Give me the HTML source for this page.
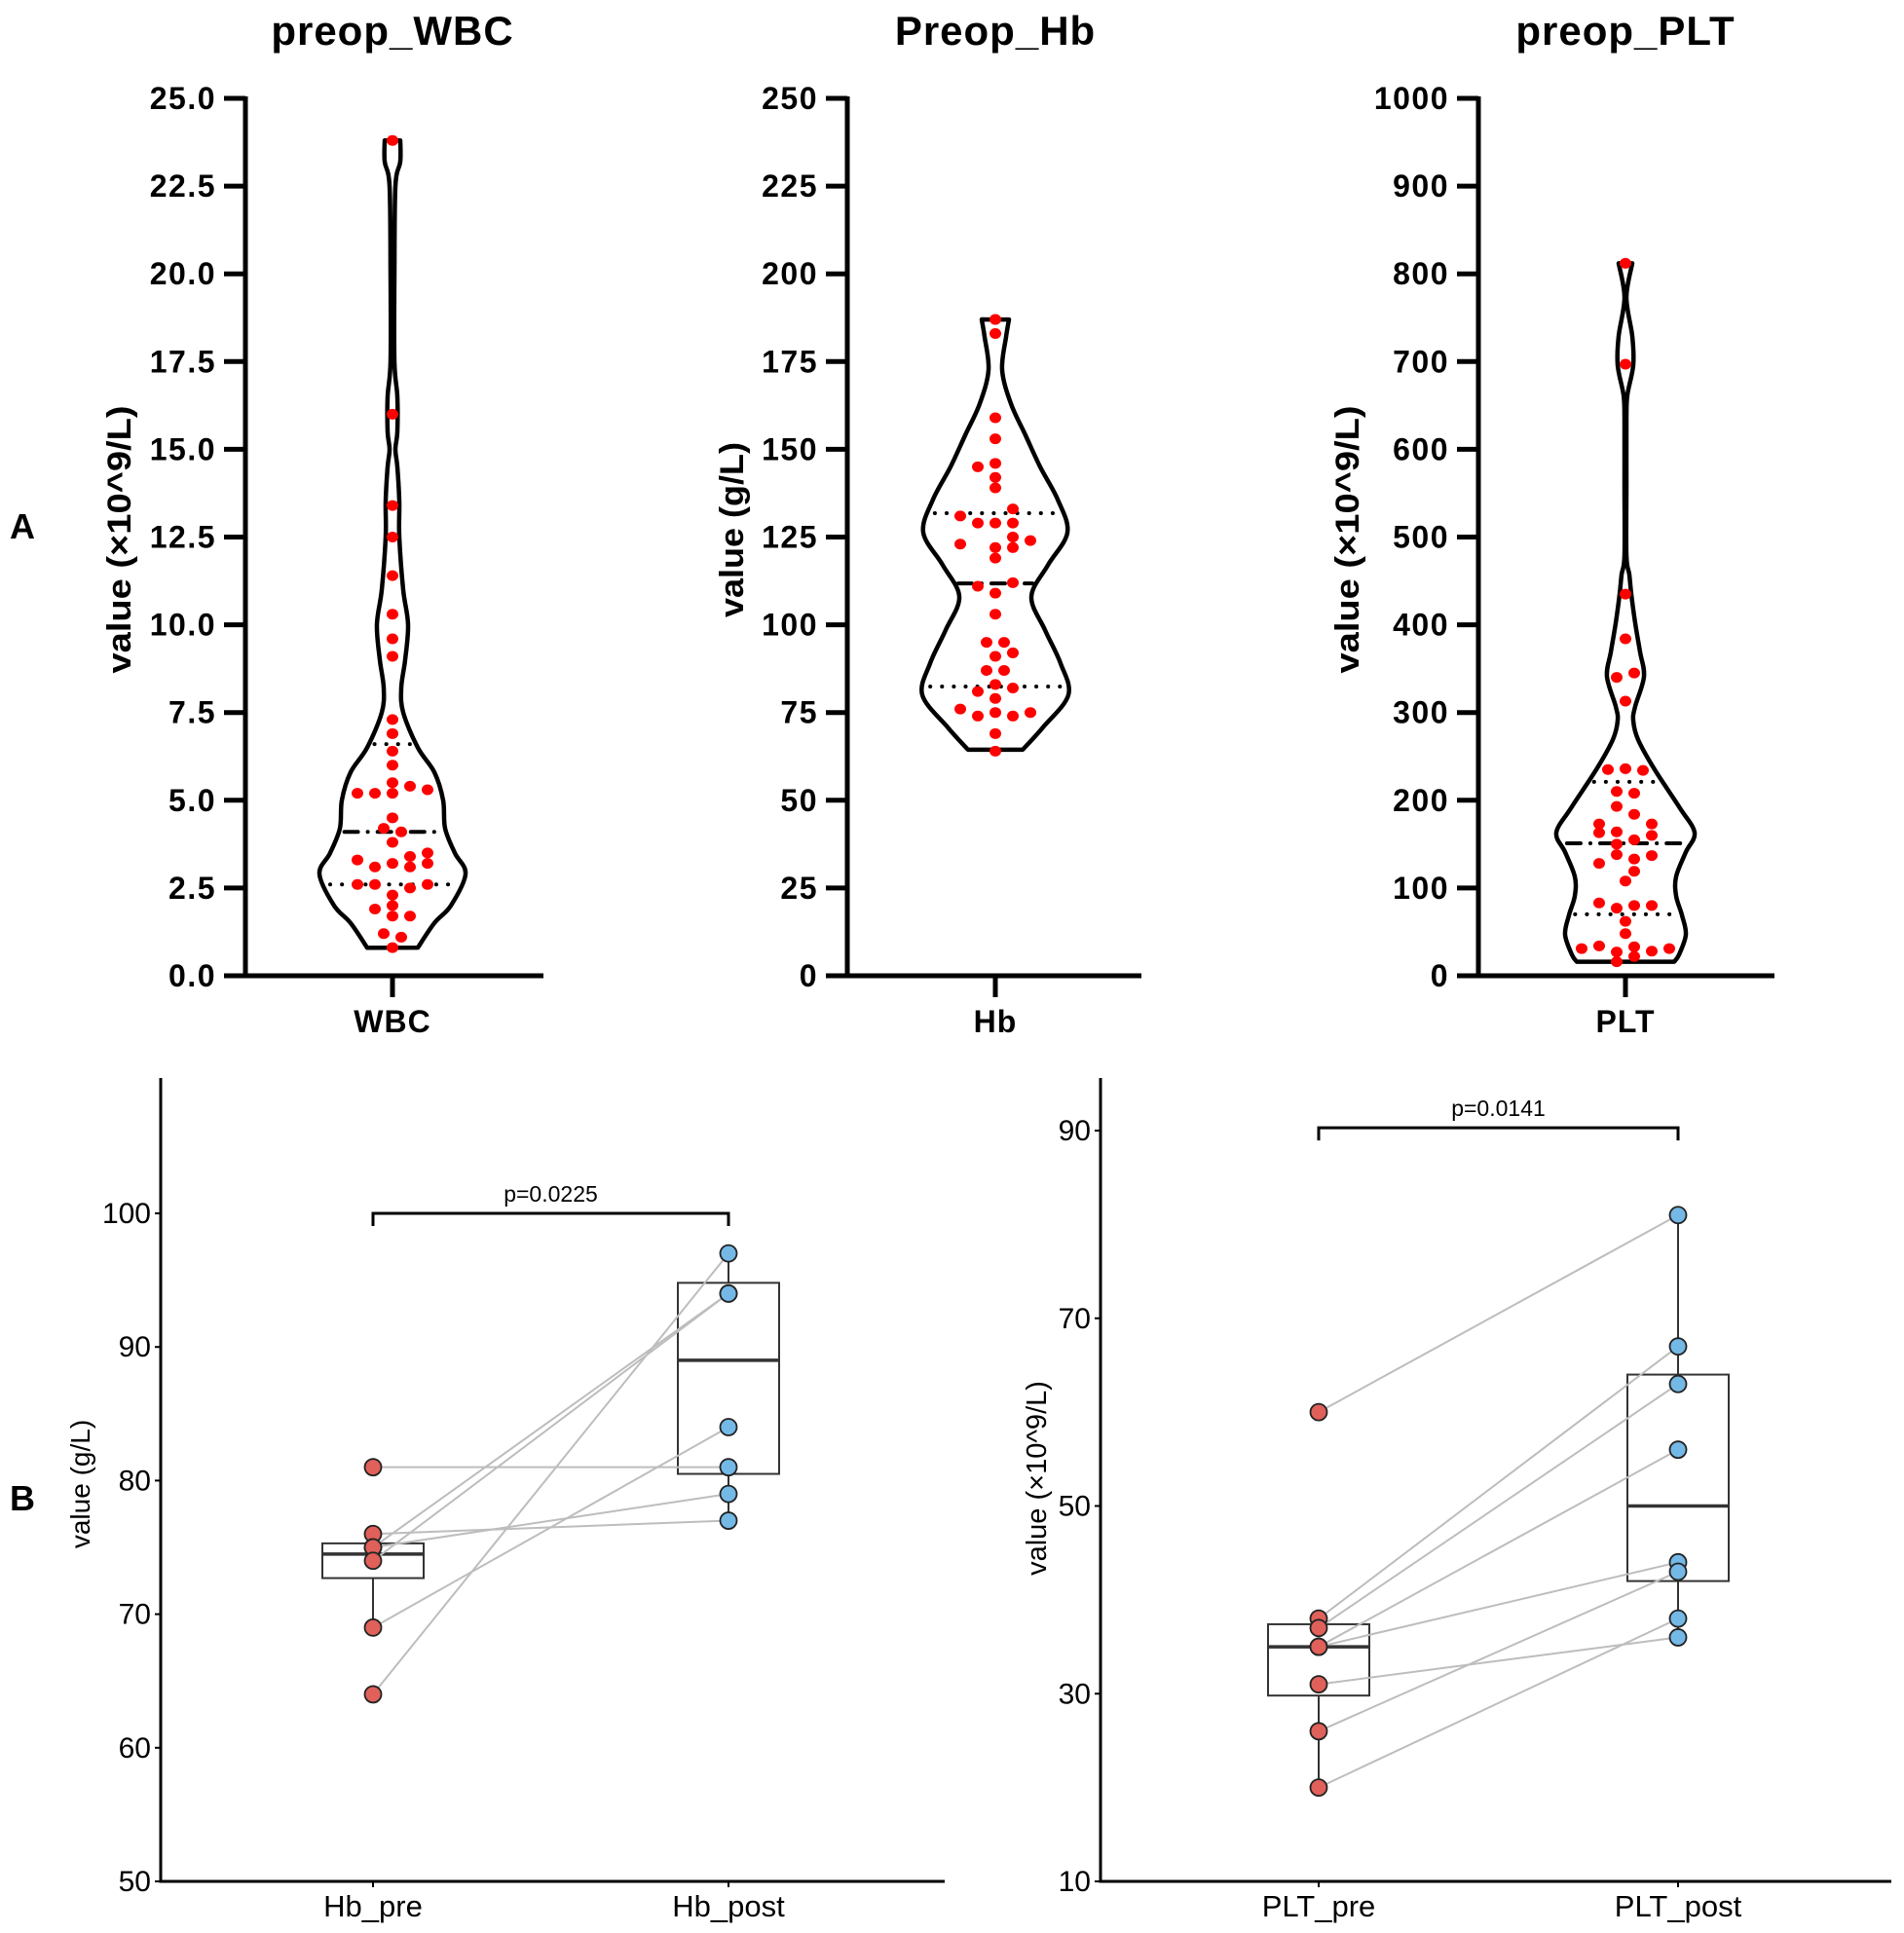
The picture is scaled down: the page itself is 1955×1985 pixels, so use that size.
<!DOCTYPE html>
<html><head><meta charset="utf-8"><style>
html,body{margin:0;padding:0;background:#fff;}
svg{display:block;font-family:"Liberation Sans",Arial,sans-serif;}
</style></head><body>
<svg id="chart" width="1955" height="1985" viewBox="0 0 1955 1985" xmlns="http://www.w3.org/2000/svg"></svg>
<script>
// ---------- Panel A data ----------
const wbcPoints=[23.8,16.0,13.4,12.5,11.4,10.3,9.6,9.1,7.3,6.9,6.4,6.0,5.5,5.2,5.2,5.2,5.4,5.3,4.5,4.2,4.1,3.8,3.3,3.1,3.2,3.4,3.1,3.5,3.2,2.6,2.6,2.5,2.6,2.3,2.0,1.9,1.7,1.7,1.2,1.1,0.8];
const wbcOffsets=[0,0,0,0,0,0,0,0,0,0,0,0,0,0,-2,-1,1,2,0,-0.5,0.5,0,-2,-1,0,1,1,2,2,-2,-1,1,2,0,0,-1,0,1,-0.5,0.5,0];
const wbcQuart=[2.6,4.1,6.6];
const wbcProfV=[0.8,1.5,2.0,2.9,3.5,4.2,5.0,5.8,6.5,7.5,8.2,9.0,10.0,11.0,12.5,13.5,14.5,15.0,15.5,16.5,17.5,20,22.5,23.2,23.8];
const wbcProfW=[26,43,60,75,64,54,52,43,26,11,9,13,16,11,7,7,5,3,5,5,2,2,3,8,8];
const wbcTicks=[0,2.5,5,7.5,10,12.5,15,17.5,20,22.5,25];

const hbPoints=[187,183,159,153,146,145,142,139,133,131,129,129,129,125,124,123,122,122,119,112,111,109,103,95,95,92,91,87,87,83,82,81,79,76,75,75,74,74,69,64];
const hbOffsets=[0,0,0,0,0,-1,0,0,1,-2,-1,0,1,1,2,-2,0,1,0,1,-1,0,0,-0.5,0.5,1,0,-0.5,0.5,0,1,-1,0,-2,0,2,-1,1,0,0];
const hbQuart=[82.4,111.8,131.8];
const hbProfV=[64.4,70.8,80,89,98.5,108,117,126.3,135.7,145,154,163,172.6,182,187];
const hbProfW=[28,49,75,67,51,37,54,74,64,46,31,16,7,11,14];
const hbTicks=[0,25,50,75,100,125,150,175,200,225,250];

const pltPoints=[812,697,435,384,340,345,313,235,236,234,210,208,193,184,173,163,164,173,160,155,150,138,137,133,128,119,108,83,77,80,80,62,48,31,34,27,33,28,31,22,16];
const pltOffsets=[0,0,0,0,-0.5,0.5,0,-1,0,1,-0.5,0.5,-0.5,0.5,-1.5,-1.5,-0.5,1.5,1.5,0.5,-0.5,-0.5,1.5,0.5,-1.5,0.5,0,-1.5,-0.5,0.5,1.5,0,0,-2.5,-1.5,-0.5,0.5,1.5,2.5,0.5,-0.5];
const pltQuart=[70,151,221];
const pltProfV=[16,24,47,69,91,113,141,163,191,235,269,291,307,341,369,402,435,457,479,560,635,662,696,729,773,812];
const pltProfW=[50,55,62,58,52,52,62,71,56,30,13,8,10,19,15,10,6,4,1,1,1,2,8,7,1,7];
const pltTicks=[0,100,200,300,400,500,600,700,800,900,1000];

// ---------- Panel B data ----------
const hbPre=[81,76,75,75,74,69,64];
const hbPost=[81,77,79,94,94,84,97];
const hbPreBox=[69,72.7,74.5,75.3,76];
const hbPostBox=[77,80.5,89,94.8,97];
const hbBTicks=[50,60,70,80,90,100];
const pltPre=[60,38,37,35,35,31,26,20];
const pltPost=[81,67,63,56,44,36,43,38];
const pltPreBox=[20,29.8,35,37.4,38];
const pltPostBox=[36,42,50,64,81];
const pltBTicks=[10,30,50,70,90];

const NS="http://www.w3.org/2000/svg";
const svg=document.getElementById('chart');
function mk(tag,attrs,parent){const e=document.createElementNS(NS,tag);for(const k in attrs)e.setAttribute(k,attrs[k]);(parent||svg).appendChild(e);return e;}
function txt(s,attrs,parent){const e=mk('text',attrs,parent);e.textContent=s;return e;}
function interp(vs,ws,v){if(v<=vs[0])return ws[0];for(let i=1;i<vs.length;i++){if(v<=vs[i]){const t=(v-vs[i-1])/(vs[i]-vs[i-1]);return ws[i-1]+t*(ws[i]-ws[i-1]);}}return ws[ws.length-1];}
function smooth(pts){let d='M'+pts[0][0]+','+pts[0][1];for(let i=0;i<pts.length-1;i++){const p0=pts[Math.max(0,i-1)],p1=pts[i],p2=pts[i+1],p3=pts[Math.min(pts.length-1,i+2)];const c1=[p1[0]+(p2[0]-p0[0])/6,p1[1]+(p2[1]-p0[1])/6];const c2=[p2[0]-(p3[0]-p1[0])/6,p2[1]-(p3[1]-p1[1])/6];d+=' C'+c1[0].toFixed(1)+','+c1[1].toFixed(1)+' '+c2[0].toFixed(1)+','+c2[1].toFixed(1)+' '+p2[0].toFixed(1)+','+p2[1].toFixed(1);}return d;}

function violinPanel(cfg){
  const g=mk('g',{});
  
  
  const y=v=>1002-v/cfg.max*901;
  const cx=cfg.cx;
  const t=txt(cfg.title,{x:cx,y:46,'text-anchor':'middle','font-size':42,'font-weight':'bold',fill:'#000','letter-spacing':'1'},g);
  
  
  const ya=mk('line',{x1:cfg.ax,y1:99,x2:cfg.ax,y2:1004,stroke:'#000','stroke-width':5},g);
  
  
  const xa=mk('line',{x1:cfg.ax-2.5,y1:1002,x2:cfg.xEnd,y2:1002,stroke:'#000','stroke-width':5},g);
  
  
  mk('line',{x1:cx,y1:1002,x2:cx,y2:1024,stroke:'#000','stroke-width':5},g);
  cfg.ticks.forEach(v=>{
    mk('line',{x1:cfg.ax-22,y1:y(v),x2:cfg.ax,y2:y(v),stroke:'#000','stroke-width':5},g);
    const l=txt(cfg.fmt(v),{x:cfg.ax-30,y:y(v)+11,'text-anchor':'end','font-size':32,'font-weight':'bold','letter-spacing':'1.5',fill:'#000'},g);
    
    
  });
  const c=txt(cfg.cat,{x:cx,y:1060,'text-anchor':'middle','font-size':32,'font-weight':'bold','letter-spacing':'1',fill:'#000'},g);
  
  
  const yt=txt(cfg.ytitle,{x:0,y:0,'text-anchor':'middle','font-size':34,'font-weight':'bold',fill:'#000',textLength:cfg.ylen,lengthAdjust:'spacingAndGlyphs',transform:'translate('+(cfg.ytx)+','+cfg.yty+') rotate(-90)'},g);
  
  
  const vs=cfg.pv, ws=cfg.pw;
  const right=vs.map((v,i)=>[cx+ws[i],y(v)]);
  const left=vs.map((v,i)=>[cx-ws[i],y(v)]).reverse();
  let d=smooth(right)+' L'+left[0][0]+','+left[0][1]+' '+smooth(left).slice(1).replace(/^[^C]*/,'')+' Z';
  const vp=mk('path',{d:d,fill:'none',stroke:'#000','stroke-width':4.5,'stroke-linejoin':'round'},g);
  
  
  cfg.q.forEach((qv,i)=>{
    const w=interp(vs,ws,qv)-6;
    const ql=mk('line',{x1:cx-w,y1:y(qv),x2:cx+w,y2:y(qv),stroke:'#000','stroke-width':4,'stroke-linecap':'round','stroke-dasharray':i===1?'14,10,0.1,10':'0.1,12'},g);
    
    
  });
  cfg.pts.forEach((v,i)=>{
    const p=mk('ellipse',{cx:cx+cfg.off[i]*18,cy:y(v),rx:6,ry:5.5,fill:'#ff0000'},g);
    
    
  });
}
violinPanel({name:'wbc',title:'preop_WBC',cat:'WBC',ytitle:'value (×10^9/L)',ylen:275,max:25,ax:252,cx:403,xEnd:558,ytx:134,yty:554,ticks:wbcTicks,fmt:v=>v.toFixed(1),pv:wbcProfV,pw:wbcProfW,q:wbcQuart,pts:wbcPoints,off:wbcOffsets});
violinPanel({name:'hb',title:'Preop_Hb',cat:'Hb',ytitle:'value (g/L)',ylen:180,max:250,ax:870,cx:1022,xEnd:1172,ytx:763,yty:544,ticks:hbTicks,fmt:v=>String(v),pv:hbProfV,pw:hbProfW,q:hbQuart,pts:hbPoints,off:hbOffsets});
violinPanel({name:'plt',title:'preop_PLT',cat:'PLT',ytitle:'value (×10^9/L)',ylen:275,max:1000,ax:1518,cx:1669,xEnd:1822,ytx:1395,yty:554,ticks:pltTicks,fmt:v=>String(v),pv:pltProfV,pw:pltProfW,q:pltQuart,pts:pltPoints,off:pltOffsets});

const la=txt('A',{x:10,y:553,'font-size':36,'font-weight':'bold',fill:'#000'});


const lb=txt('B',{x:10,y:1551,'font-size':36,'font-weight':'bold',fill:'#000'});



function pairedPanel(cfg){
  const g=mk('g',{});
  
  
  const y=v=>cfg.yBot-(v-cfg.min)/(cfg.max-cfg.min)*(cfg.yBot-cfg.yTopTick);
  const ya=mk('line',{x1:cfg.ax,y1:1107,x2:cfg.ax,y2:cfg.yBot+1.5,stroke:'#000','stroke-width':3},g);
  
  
  const xa=mk('line',{x1:cfg.ax-1.5,y1:cfg.yBot,x2:cfg.xEnd,y2:cfg.yBot,stroke:'#000','stroke-width':3},g);
  
  
  cfg.ticks.forEach(v=>{
    mk('line',{x1:cfg.ax-6,y1:y(v),x2:cfg.ax,y2:y(v),stroke:'#000','stroke-width':2},g);
    const l=txt(String(v),{x:cfg.ax-10,y:y(v)+10,'text-anchor':'end','font-size':30,fill:'#000'},g);
    
    
  });
  [cfg.x1,cfg.x2].forEach((x,i)=>{
    mk('line',{x1:x,y1:cfg.yBot,x2:x,y2:cfg.yBot+6,stroke:'#000','stroke-width':2},g);
    const l=txt(cfg.cats[i],{x:x,y:cfg.yBot+36,'text-anchor':'middle','font-size':31,fill:'#000'},g);
    
    
  });
  const yt=txt(cfg.ytitle,{x:0,y:0,'text-anchor':'middle','font-size':cfg.yfs,fill:'#000',transform:'translate('+cfg.ytx+','+cfg.yty+') rotate(-90)'},g);
  
  
  [[cfg.x1,cfg.preBox],[cfg.x2,cfg.postBox]].forEach(([x,b],i)=>{
    mk('line',{x1:x,y1:y(b[0]),x2:x,y2:y(b[1]),stroke:'#333','stroke-width':2},g);
    mk('line',{x1:x,y1:y(b[3]),x2:x,y2:y(b[4]),stroke:'#333','stroke-width':2},g);
    const r=mk('rect',{x:x-52,y:y(b[3]),width:104,height:y(b[1])-y(b[3]),fill:'#fff',stroke:'#333','stroke-width':2},g);
    
    
    mk('line',{x1:x-52,y1:y(b[2]),x2:x+52,y2:y(b[2]),stroke:'#333','stroke-width':3.5},g);
  });
  cfg.pre.forEach((v,i)=>{
    const l=mk('line',{x1:cfg.x1,y1:y(v),x2:cfg.x2,y2:y(cfg.post[i]),stroke:'#bdbdbd','stroke-width':2},g);
    
    
  });
  cfg.pre.forEach(v=>{
    const p=mk('circle',{cx:cfg.x1,cy:y(v),r:8.5,fill:'#e0605a',stroke:'#222','stroke-width':1.8},g);
    
    
  });
  cfg.post.forEach(v=>{
    const p=mk('circle',{cx:cfg.x2,cy:y(v),r:8.5,fill:'#74b8e6',stroke:'#222','stroke-width':1.8},g);
    
    
  });
  const by=y(cfg.bracket);
  const br=mk('path',{d:'M'+cfg.x1+','+(by+13)+' V'+by+' H'+cfg.x2+' V'+(by+13),fill:'none',stroke:'#000','stroke-width':3},g);
  
  
  const pt=txt(cfg.p,{x:(cfg.x1+cfg.x2)/2,y:by-12,'text-anchor':'middle','font-size':23,fill:'#000'},g);
  
  
}
pairedPanel({name:'hb-b',ax:165,xEnd:970,yBot:1932,yTopTick:1246,min:50,max:100,ticks:hbBTicks,x1:383,x2:748,cats:['Hb_pre','Hb_post'],ytitle:'value (g/L)',yfs:28,ytx:92,yty:1524,pre:hbPre,post:hbPost,preBox:hbPreBox,postBox:hbPostBox,bracket:100,p:'p=0.0225'});
pairedPanel({name:'plt-b',ax:1130,xEnd:1942,yBot:1932,yTopTick:1161,min:10,max:90,ticks:pltBTicks,x1:1354,x2:1723,cats:['PLT_pre','PLT_post'],ytitle:'value (×10^9/L)',yfs:29,ytx:1074,yty:1518,pre:pltPre,post:pltPost,preBox:pltPreBox,postBox:pltPostBox,bracket:90.3,p:'p=0.0141'});
</script>
</body></html>
